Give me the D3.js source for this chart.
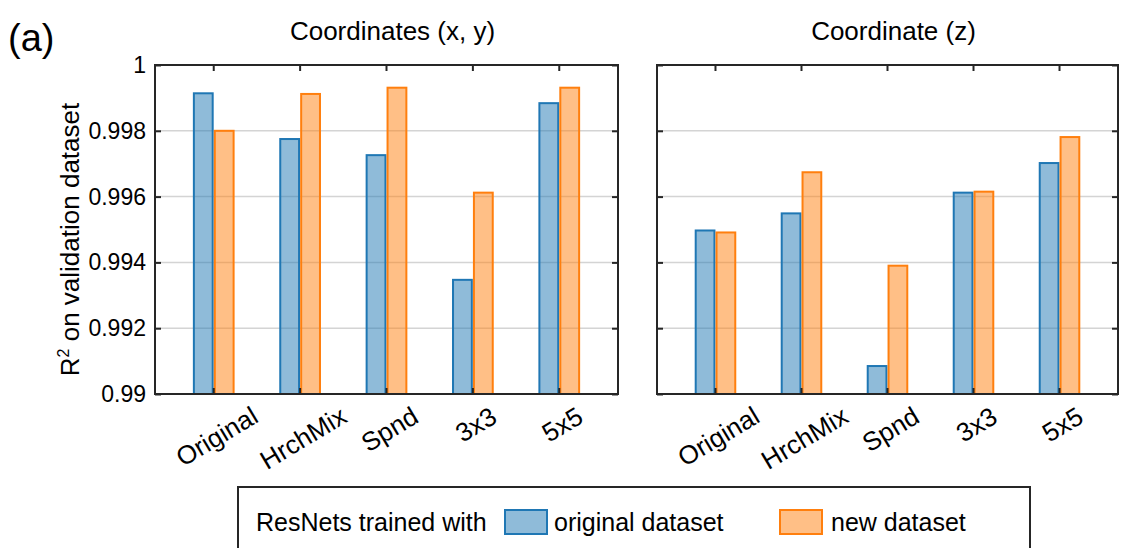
<!DOCTYPE html>
<html>
<head>
<meta charset="utf-8">
<script src="https://cdn.jsdelivr.net/npm/d3@7"></script>
<style>
  body { margin: 0; background: #fff; }
  svg { font-family: "Liberation Sans", Arial, sans-serif; }
</style>
</head>
<body>
<svg id="chart" width="1123" height="548"></svg>
<script>
// categories and values
const categories = ["Original", "HrchMix", "Spnd", "3x3", "5x5"];
const seriesNames = ["original dataset", "new dataset"];
const xyOriginal = [0.99914, 0.99775, 0.99726, 0.99347, 0.99884];
const xyNew = [0.99800, 0.99912, 0.99931, 0.99612, 0.99931];
const zOriginal = [0.99497, 0.99549, 0.99085, 0.99612, 0.99702];
const zNew = [0.99491, 0.99674, 0.99390, 0.99615, 0.99781];
const yTicks = [0.99, 0.992, 0.994, 0.996, 0.998, 1];
const yTickLabels = ["0.99", "0.992", "0.994", "0.996", "0.998", "1"];

const colors = ["#1f77b4", "#ff7f0e"];

const svg = d3.select("#chart");
const plotTop = 65, plotBottom = 394;

const yScale = d3.scaleLinear().domain([0.99, 1]).range([plotBottom, plotTop]);

function drawPanel(left, right, title, orig, neu, showLabels) {
  const g = svg.append("g").attr("transform", "translate(" + left + ",0)");
  const w = right - left;

  const x0 = d3.scaleBand().domain(categories).range([0, w])
    .paddingInner(0).paddingOuter(0.18);
  const bw = x0.bandwidth();
  const x1 = d3.scaleBand().domain(seriesNames).range([bw * 0.27, bw * 0.73])
    .paddingInner(0.1);

  // grid
  g.selectAll(".grid")
    .data(yTicks.slice(1, -1))
    .enter()
    .append("line")
    .attr("x1", 0).attr("x2", w)
    .attr("y1", (d) => yScale(d)).attr("y2", (d) => yScale(d))
    .attr("stroke", "#d4d4d4")
    .attr("stroke-width", 1.5);

  // bars
  const rows = categories.map((c, i) => ({ cat: c, vals: [orig[i], neu[i]] }));
  const grp = g.selectAll(".grp")
    .data(rows)
    .enter()
    .append("g")
    .attr("transform", (d) => "translate(" + x0(d.cat) + ",0)");
  grp.selectAll("rect")
    .data((d) => d.vals.map((v, k) => ({ s: seriesNames[k], v: v, k: k })))
    .enter()
    .append("rect")
    .attr("x", (d) => x1(d.s))
    .attr("y", (d) => yScale(d.v))
    .attr("width", x1.bandwidth())
    .attr("height", (d) => plotBottom - yScale(d.v))
    .attr("fill", (d) => colors[d.k])
    .attr("fill-opacity", 0.5)
    .attr("stroke", (d) => colors[d.k])
    .attr("stroke-width", 2);

  // axes with inward ticks
  const xb = d3.axisTop(x0).tickSize(6).tickFormat("");
  g.append("g").attr("transform", "translate(0," + plotBottom + ")").call(xb);
  const xt = d3.axisBottom(x0).tickSize(6).tickFormat("");
  g.append("g").attr("transform", "translate(0," + plotTop + ")").call(xt);
  const yl = d3.axisRight(yScale).tickValues(yTicks).tickSize(6).tickFormat("");
  g.append("g").call(yl);
  const yr = d3.axisLeft(yScale).tickValues(yTicks).tickSize(6).tickFormat("");
  g.append("g").attr("transform", "translate(" + w + ",0)").call(yr);
  g.selectAll(".domain").remove();
  g.selectAll(".tick line").attr("stroke", "#262626").attr("stroke-width", 2);

  // frame
  g.append("rect")
    .attr("x", 0).attr("y", plotTop)
    .attr("width", w).attr("height", plotBottom - plotTop)
    .attr("fill", "none")
    .attr("stroke", "#262626")
    .attr("stroke-width", 2);

  // rotated category labels, centred under the tick, tops aligned
  g.selectAll(".xlab")
    .data(categories)
    .enter()
    .append("text")
    .attr("class", "xlab")
    .attr("text-anchor", "middle")
    .attr("dy", "0.35em")
    .attr("font-size", 26)
    .attr("fill", "#000")
    .text((d) => d)
    .attr("transform", function (d) {
      const len = this.getComputedTextLength();
      const cy = plotBottom + 20 + len * 0.25;
      return "translate(" + (x0(d) + bw / 2 + 3) + "," + cy + ") rotate(-31)";
    });

  if (showLabels) {
    g.selectAll(".ylab")
      .data(yTicks)
      .enter()
      .append("text")
      .attr("x", -9)
      .attr("y", (d) => yScale(d))
      .attr("dy", "0.35em")
      .attr("text-anchor", "end")
      .attr("font-size", 23)
      .text((d, i) => yTickLabels[i]);
  }

  svg.append("text")
    .attr("x", left + w / 2 + 6)
    .attr("y", 40)
    .attr("text-anchor", "middle")
    .attr("font-size", 26)
    .text(title);
}

drawPanel(155, 618, "Coordinates (x, y)", xyOriginal, xyNew, true);
drawPanel(657, 1118, "Coordinate (z)", zOriginal, zNew, false);

// y axis title
svg.append("text")
  .attr("transform", "translate(79," + ((plotTop + plotBottom) / 2 + 10) + ") rotate(-90)")
  .attr("text-anchor", "middle")
  .attr("font-size", 26)
  .html("R<tspan font-size='16' dy='-10'>2</tspan><tspan dy='10'> on validation dataset</tspan>");

// panel tag
svg.append("text")
  .attr("x", 8).attr("y", 51)
  .attr("font-size", 38)
  .text("(a)");

// legend
const lg = svg.append("g");
lg.append("rect")
  .attr("x", 238).attr("y", 487)
  .attr("width", 792).attr("height", 80)
  .attr("fill", "#fff")
  .attr("stroke", "#262626")
  .attr("stroke-width", 2);
lg.append("text")
  .attr("x", 256).attr("y", 531)
  .attr("font-size", 25)
  .text("ResNets trained with");
const legX = [505, 780];
const legText = [554, 831];
seriesNames.forEach((s, k) => {
  lg.append("rect")
    .attr("x", legX[k]).attr("y", 510)
    .attr("width", 42).attr("height", 24)
    .attr("fill", colors[k])
    .attr("fill-opacity", 0.5)
    .attr("stroke", colors[k])
    .attr("stroke-width", 2);
  lg.append("text")
    .attr("x", legText[k]).attr("y", 531)
    .attr("font-size", 25)
    .text(s);
});
</script>
</body>
</html>
